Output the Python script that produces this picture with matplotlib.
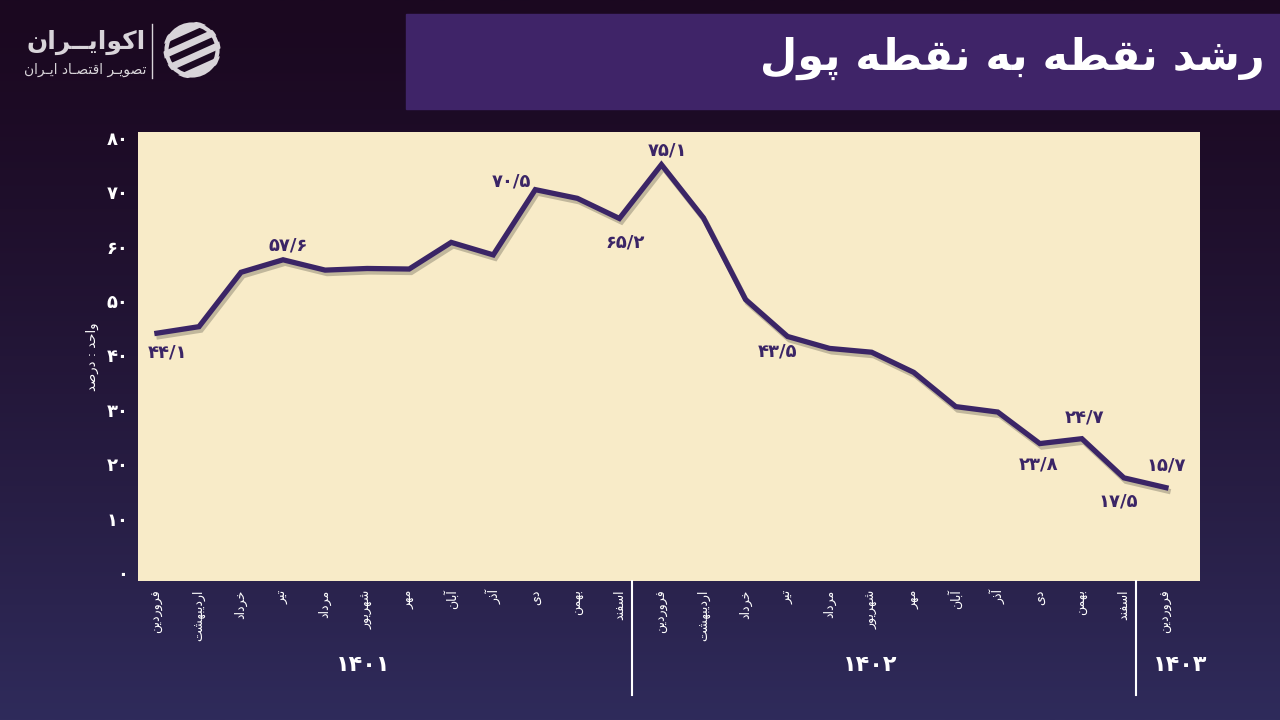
import numpy as np
import matplotlib
matplotlib.use('Agg')
import matplotlib.pyplot as plt
import matplotlib.patheffects as pe
from matplotlib.patches import Rectangle, Circle

plt.rcParams['font.family'] = ['DejaVu Sans']

# --- data -------------------------------------------------------------
months = ['فروردین', 'اردیبهشت', 'خرداد', 'تیر', 'مرداد', 'شهریور',
          'مهر', 'آبان', 'آذر', 'دی', 'بهمن', 'اسفند']
years = ['1401', '1402', '1403']
labels_x = months + months + months[:1]
values = [44.1, 45.3, 55.3, 57.6, 55.7, 56.0, 55.9, 60.8, 58.5, 70.5, 68.9, 65.2,
          75.1, 65.3, 50.3, 43.5, 41.3, 40.6, 36.9, 30.6, 29.6, 23.8, 24.7, 17.5, 15.7]
annotated = [0, 3, 9, 11, 12, 15, 21, 22, 23, 24]
yticks = [0, 10, 20, 30, 40, 50, 60, 70, 80]

title = 'رشد نقطه به نقطه پول'
unit_label = 'واحد : درصد'
brand = 'اکوایــران'
brand_sub = 'تصویـر اقتصـاد ایـران'

# --- minimal persian shaping (matplotlib has no text shaping) ----------
FORMS = {
    'ا': ('\uFE8D', '\uFE8E'), 'آ': ('\uFE81', '\uFE82'),
    'د': ('\uFEA9', '\uFEAA'), 'ذ': ('\uFEAB', '\uFEAC'),
    'ر': ('\uFEAD', '\uFEAE'), 'ز': ('\uFEAF', '\uFEB0'),
    'و': ('\uFEED', '\uFEEE'),
    'ب': ('\uFE8F', '\uFE90', '\uFE91', '\uFE92'),
    'پ': ('\uFB56', '\uFB57', '\uFB58', '\uFB59'),
    'ت': ('\uFE95', '\uFE96', '\uFE97', '\uFE98'),
    'ح': ('\uFEA1', '\uFEA2', '\uFEA3', '\uFEA4'),
    'خ': ('\uFEA5', '\uFEA6', '\uFEA7', '\uFEA8'),
    'س': ('\uFEB1', '\uFEB2', '\uFEB3', '\uFEB4'),
    'ش': ('\uFEB5', '\uFEB6', '\uFEB7', '\uFEB8'),
    'ص': ('\uFEB9', '\uFEBA', '\uFEBB', '\uFEBC'),
    'ط': ('\uFEC1', '\uFEC2', '\uFEC3', '\uFEC4'),
    'ف': ('\uFED1', '\uFED2', '\uFED3', '\uFED4'),
    'ق': ('\uFED5', '\uFED6', '\uFED7', '\uFED8'),
    'ک': ('\uFB8E', '\uFB8F', '\uFB90', '\uFB91'),
    'ل': ('\uFEDD', '\uFEDE', '\uFEDF', '\uFEE0'),
    'م': ('\uFEE1', '\uFEE2', '\uFEE3', '\uFEE4'),
    'ن': ('\uFEE5', '\uFEE6', '\uFEE7', '\uFEE8'),
    'ه': ('\uFEE9', '\uFEEA', '\uFEEB', '\uFEEC'),
    'ی': ('\uFBFC', '\uFBFD', '\uFBFE', '\uFBFF'),
    'ـ': ('ـ', 'ـ', 'ـ', 'ـ'),
}


def fa(s):
    out = []
    for i, c in enumerate(s):
        if c not in FORMS:
            out.append(c)
            continue
        f = FORMS[c]
        prev = s[i - 1] if i > 0 else ''
        nxt = s[i + 1] if i + 1 < len(s) else ''
        jp = prev in FORMS and len(FORMS[prev]) == 4
        jn = len(f) == 4 and nxt in FORMS
        if jp and jn:
            out.append(f[3])
        elif jp:
            out.append(f[1])
        elif jn:
            out.append(f[2])
        else:
            out.append(f[0])
    return ''.join(out)[::-1]


def fa_num(v):
    s = str(v).replace('.', '/')
    return s.translate(str.maketrans('0123456789', '۰۱۲۳۴۵۶۷۸۹'))


# --- figure -----------------------------------------------------------
fig = plt.figure(figsize=(12.8, 7.2), dpi=100)

bg = fig.add_axes([0, 0, 1, 1], zorder=-10)
top = np.array([0x1b, 0x08, 0x20]) / 255
bot = np.array([0x2f, 0x2b, 0x5b]) / 255
t = np.linspace(0, 1, 256) ** 1.3
grad = top[None, :] * (1 - t[:, None]) + bot[None, :] * t[:, None]
bg.imshow(grad[:, None, :], aspect='auto', extent=[0, 1, 0, 1])
bg.set_axis_off()

# title band
fig.patches.append(Rectangle((406 / 1280, 1 - 109 / 720), 874 / 1280, 95 / 720,
                             transform=fig.transFigure, color='#3f2468', zorder=-5))
fig.text(1265 / 1280, 1 - 58 / 720, fa(title), color='white', fontsize=31,
         fontweight='bold', ha='right', va='center')

# logo
logo_c = '#d8d4d9'
fig.text(146 / 1280, 1 - 42 / 720, fa(brand), color=logo_c, fontsize=18,
         fontweight='bold', ha='right', va='center')
fig.text(146 / 1280, 1 - 70 / 720, fa(brand_sub), color=logo_c, fontsize=10,
         ha='right', va='center')
fig.add_artist(plt.Line2D([152 / 1280, 152 / 1280], [1 - 24 / 720, 1 - 78 / 720],
                          color=logo_c, lw=1))
lg = fig.add_axes([162 / 1280, 1 - 80 / 720, 60 / 1280, 60 / 720])
lg.set_xlim(-1, 1)
lg.set_ylim(-1, 1)
lg.set_axis_off()
clip = Circle((0, 0), 0.95, transform=lg.transData)
for off in [-0.75, -0.25, 0.25, 0.75]:
    ln, = lg.plot([-1.2, 1.2], [-1.2 * 0.45 + off, 1.2 * 0.45 + off],
                  color=logo_c, lw=5, solid_capstyle='butt')
    ln.set_clip_path(clip)
ring = Circle((0, 0), 0.85, fill=False, ec=logo_c, lw=3)
lg.add_patch(ring)

# --- main chart -------------------------------------------------------
ax = fig.add_axes([138 / 1280, 1 - 581 / 720, 1062 / 1280, 449 / 720])
ax.set_facecolor('#f8ebc8')
x = np.arange(len(values))
line_c = '#3b2566'
ax.plot(x, values, color=line_c, lw=3.8, solid_joinstyle='miter',
        path_effects=[pe.SimpleLineShadow(offset=(1.5, -2.5), shadow_color='k', alpha=0.22),
                      pe.Normal()])

offsets = {0: (8, -14), 3: (4, 10), 9: (-17, 6), 11: (4, -17), 12: (4, 10),
           15: (-7, -11), 21: (-1, -15), 22: (2, 15), 23: (-4, -17), 24: (0, 16)}
for i in annotated:
    ax.annotate(fa_num(values[i]), (x[i], values[i]), xytext=offsets[i],
                textcoords='offset points', ha='center', va='center',
                color=line_c, fontsize=13, fontweight='bold')

ax.set_xlim(-0.45, 24.81)
ax.set_ylim(-1.47, 81.1)
ax.set_yticks(yticks)
ax.set_yticklabels([fa_num(v) for v in yticks], color='white', fontsize=13,
                   fontweight='bold')
ax.set_xticks(x)
ax.set_xticklabels([fa(m) for m in labels_x], rotation=90, color='white',
                   fontsize=9, va='top', ha='center')
ax.tick_params(length=0)
ax.tick_params(axis='y', pad=7)
ax.tick_params(axis='x', pad=6)
for s in ax.spines.values():
    s.set_visible(False)

ax.text(-0.043, 0.5, fa(unit_label), transform=ax.transAxes, rotation=90,
        color='white', fontsize=9.5, ha='center', va='center')

# year separators and labels
xt = ax.get_xaxis_transform()
for sx in [11.3, 23.29]:
    ax.plot([sx, sx], [0, -0.254], color='white', lw=1.5, transform=xt,
            clip_on=False)
for yx, yr in zip([4.9, 16.96, 24.33], years):
    ax.text(yx, -0.187, fa_num(yr), transform=xt, color='white', fontsize=16,
            fontweight='bold', ha='center', va='center')

fig.savefig('out.png', dpi=100)
